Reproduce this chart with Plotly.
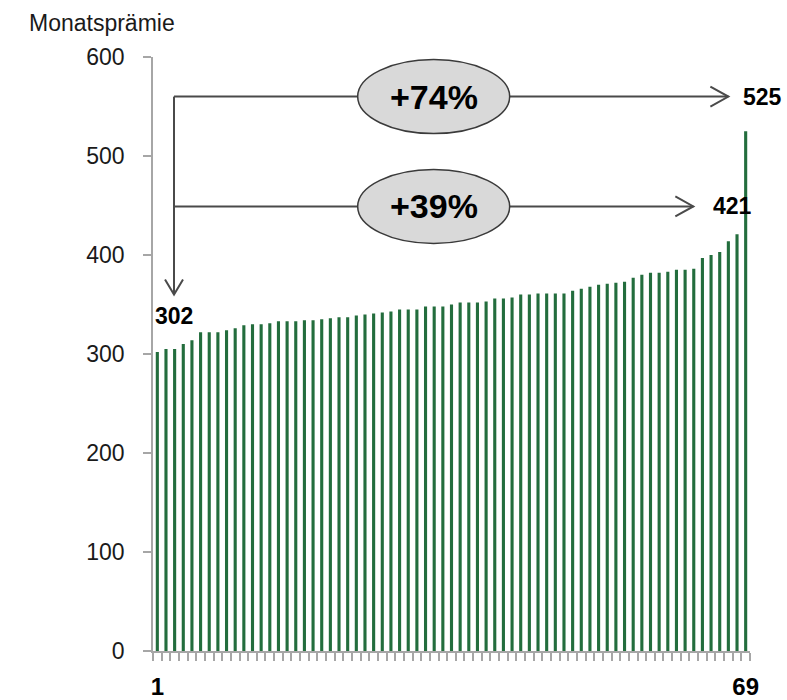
import plotly.graph_objects as go

# Monthly premium per offer, sorted ascending (offer 1 .. 69)
offers = list(range(1, 70))
premiums = [
    302, 305, 305, 310, 314, 322, 322, 322, 324, 326,
    329, 330, 330, 331, 333, 333, 333, 334, 334, 335,
    336, 337, 337, 339, 340, 341, 342, 343, 345, 345,
    345, 348, 348, 348, 350, 352, 352, 352, 353, 356,
    356, 357, 360, 360, 361, 361, 361, 361, 364, 366,
    368, 370, 371, 372, 373, 377, 380, 382, 382, 383,
    385, 385, 386, 397, 400, 403, 414, 421, 525,
]
y_ticks = [0, 100, 200, 300, 400, 500, 600]
x_tick_offers = [1, 69]
y_title = "Monatsprämie"

low = premiums[0]
mid = premiums[-2]
high = premiums[-1]
pct_high = round((high / low - 1) * 100)
pct_mid = round((mid / low - 1) * 100)

# Placement of the comparison brackets (data units)
bracket_x = 2.93
level_top = 560
level_mid = 449
arrow_down_tip = 360
tip_high_x = 67.0
tip_mid_x = 62.95
ellipse_x = 32.94

GREEN = "#236d3d"
AXIS_GREY = "#a6a6a6"
LINE_GREY = "#4a4a4a"
FONT = "Liberation Sans, Arial, sans-serif"

fig = go.Figure()
fig.add_trace(go.Bar(
    x=offers, y=premiums, width=0.36,
    marker=dict(color=GREEN, line=dict(width=0)),
    hoverinfo="x+y", showlegend=False,
))

shapes = []
line_style = dict(color=LINE_GREY, width=2)
# bracket lines
shapes.append(dict(type="line", xref="x", yref="y", x0=bracket_x, x1=tip_high_x,
                   y0=level_top, y1=level_top, line=line_style))
shapes.append(dict(type="line", xref="x", yref="y", x0=bracket_x, x1=tip_mid_x,
                   y0=level_mid, y1=level_mid, line=line_style))
shapes.append(dict(type="line", xref="x", yref="y", x0=bracket_x, x1=bracket_x,
                   y0=level_top, y1=arrow_down_tip, line=line_style))
# open chevron arrow heads
for tx, ty in [(tip_high_x, level_top), (tip_mid_x, level_mid)]:
    shapes.append(dict(type="path", xref="x", yref="y",
                       xsizemode="pixel", ysizemode="pixel",
                       xanchor=tx, yanchor=ty,
                       path="M -18,10 L 0,0 L -18,-10", line=line_style))
shapes.append(dict(type="path", xref="x", yref="y",
                   xsizemode="pixel", ysizemode="pixel",
                   xanchor=bracket_x, yanchor=arrow_down_tip,
                   path="M -9,15 L 0,0 L 9,15", line=line_style))
# percentage ellipses
for ly in [level_top, level_mid]:
    shapes.append(dict(type="circle", xref="x", yref="y",
                       xsizemode="pixel", ysizemode="pixel",
                       xanchor=ellipse_x, yanchor=ly,
                       x0=-76, x1=76, y0=-37, y1=37,
                       fillcolor="#d9d9d9", line=dict(color="#3a3a3a", width=1.5)))

value_font = dict(family=FONT, size=23, color="#000000")
annotations = [
    dict(text=f"<b>+{pct_high}%</b>", x=ellipse_x, y=level_top, xref="x", yref="y",
         showarrow=False, font=dict(family=FONT, size=34, color="#000000")),
    dict(text=f"<b>+{pct_mid}%</b>", x=ellipse_x, y=level_mid, xref="x", yref="y",
         showarrow=False, font=dict(family=FONT, size=34, color="#000000")),
    dict(text=f"<b>{high}</b>", x=tip_high_x, y=level_top, xref="x", yref="y",
         xanchor="left", xshift=13, showarrow=False, font=value_font),
    dict(text=f"<b>{mid}</b>", x=tip_mid_x, y=level_mid, xref="x", yref="y",
         xanchor="left", xshift=18, showarrow=False, font=value_font),
    dict(text=f"<b>{low}</b>", x=bracket_x, y=arrow_down_tip, xref="x", yref="y",
         yanchor="top", yshift=-6, showarrow=False, font=value_font),
    dict(text=y_title, xref="paper", yref="paper",
         x=(27 - 153) / 597, y=1 + (57 - 23) / 594,
         xanchor="left", yanchor="middle",
         showarrow=False, font=dict(family=FONT, size=23, color="#1a1a1a")),
]

fig.update_layout(
    width=787, height=700,
    margin=dict(l=153, r=37, t=57, b=49, autoexpand=False),
    paper_bgcolor="white", plot_bgcolor="white",
    shapes=shapes, annotations=annotations,
    bargap=0.64,
    xaxis=dict(
        range=[0.5, 69.5], tickvals=x_tick_offers,
        ticktext=[f"<b>{v}</b>" for v in x_tick_offers],
        ticks="", showline=True, linecolor=AXIS_GREY, linewidth=1.5,
        showgrid=False, zeroline=False, ticklabelstandoff=13, automargin=False,
        tickfont=dict(family=FONT, size=24, color="#000000"),
        minor=dict(tickvals=[o - 0.5 for o in offers] + [offers[-1] + 0.5],
                   ticks="outside", ticklen=8, tickcolor=AXIS_GREY, tickwidth=1.5,
                   showgrid=False),
    ),
    yaxis=dict(
        range=[0, 600], tickvals=y_ticks,
        ticks="outside", ticklen=8, tickcolor=AXIS_GREY, tickwidth=1.5,
        showline=True, linecolor=AXIS_GREY, linewidth=1.5,
        showgrid=False, zeroline=False, ticklabelstandoff=14, automargin=False,
        tickfont=dict(family=FONT, size=23, color="#1a1a1a"),
    ),
)

fig.write_html("out.html")
